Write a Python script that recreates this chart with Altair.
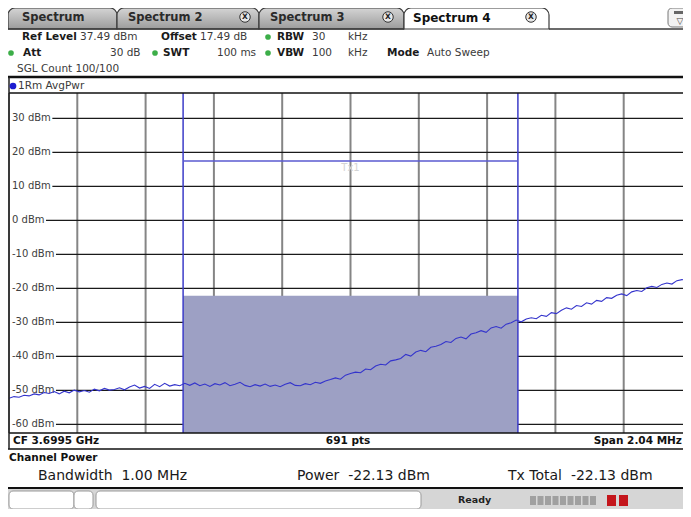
import altair as alt
import pandas as pd
import numpy as np

# ---------------- data ----------------
span_mhz = 2.04
ref_level = 37.49
bottom_level = -62.51
levels = [30, 20, 10, 0, -10, -20, -30, -40, -50, -60]
level_labels = [f"{v} dBm" for v in levels]
channel_bw_mhz = 1.00
channel_power = -22.13
limit_level = 17.49

trace_dbm = [
    -52.3, -51.8, -52.0, -51.4, -51.6, -51.0, -51.3, -50.6, -50.9, -50.3, -51.0, -50.2,
    -50.7, -49.9, -50.4, -50.0, -50.5, -49.6, -50.1, -49.4, -49.9, -49.7, -49.2, -49.8,
    -49.0, -48.4, -49.3, -48.8, -49.4, -48.2, -48.9, -47.9, -48.7, -48.3, -48.6,
    -47.9, -48.5, -47.8, -48.6, -48.1, -48.8, -48.0, -48.4, -47.7, -48.6, -48.2, -47.6,
    -48.5, -48.9, -48.3, -48.7, -48.1, -48.8, -48.4, -48.9, -48.2, -47.7, -48.5, -48.6,
    -48.0, -48.3, -47.6, -47.9, -47.2, -46.8, -46.3, -46.7, -45.5, -45.0,
    -44.6, -44.8, -43.7, -43.9, -42.8, -42.3, -42.5, -41.3, -41.0, -40.6, -39.4, -39.9,
    -38.7, -38.2, -38.6, -37.3, -37.0, -36.5, -35.6, -35.9, -34.7, -34.3, -34.8, -33.4,
    -33.0, -32.4, -32.9, -31.6, -31.2, -31.7, -30.5, -30.1, -29.3, -29.8,
    -29.0, -28.6, -28.9, -27.9, -28.2, -27.1, -27.4, -26.4, -25.7, -26.1, -25.0, -25.3,
    -24.2, -24.6, -23.5, -23.8, -22.7, -22.9, -22.0, -21.6, -22.1, -21.0, -20.6, -20.9,
    -19.8, -19.4, -19.7, -18.8, -18.4, -18.7, -17.7, -17.4, -17.6, -16.8,
]

# ---------------- layout ----------------
FONT = "DejaVu Sans"
FULL_W = 683            # width of the full 10-division grid in the original screen
W, H = 674, 340         # visible part (the screen is cut at the right)
X0, Y0 = 9, 93          # page position of plot origin
half = span_mhz / 2
x_hi = -half + span_mhz * W / FULL_W
xs = alt.Scale(domain=[-half, x_hi], nice=False, zero=False)
ys = alt.Scale(domain=[bottom_level, ref_level], nice=False, zero=False)

freqs = np.linspace(-half, half, len(trace_dbm))
trace_df = pd.DataFrame({"f": freqs, "p": trace_dbm})
grid_vals = [-half + span_mhz / 10 * k for k in range(11)]
grid_f = pd.DataFrame({"f": [g for g in grid_vals if g <= x_hi]})

cw = {"0": 6.36, "1": 6.36, "2": 6.36, "3": 6.36, "4": 6.36, "5": 6.36, "6": 6.36,
      "-": 3.61, " ": 3.18, "d": 6.35, "B": 6.86, "m": 9.74}
lab_x = 3
hgrid_df = pd.DataFrame({"p": levels, "t": level_labels})
hgrid_df["x0"] = [lab_x + sum(cw.get(c, 6.3) for c in t) + 1.5 for t in level_labels]


def rects(rows, **kw):
    df = pd.DataFrame(rows, columns=["x", "x2", "y", "y2", "fill", "stroke"])
    df[["x", "x2"]] -= X0
    df[["y", "y2"]] -= Y0
    return alt.Chart(df).mark_rect(**kw).encode(
        x=alt.X("x:Q", scale=None), x2="x2:Q",
        y=alt.Y("y:Q", scale=None), y2="y2:Q",
        fill=alt.Fill("fill:N", scale=None, legend=None),
        stroke=alt.Stroke("stroke:N", scale=None, legend=None),
    )


def grad_rects(rows, stops, **kw):
    df = pd.DataFrame(rows, columns=["x", "x2", "y", "y2"])
    df[["x", "x2"]] -= X0
    df[["y", "y2"]] -= Y0
    g = alt.LinearGradient(gradient="linear", x1=0, x2=0, y1=0, y2=1,
                           stops=[alt.GradientStop(offset=o, color=c) for o, c in stops])
    return alt.Chart(df).mark_rect(fill=g, **kw).encode(
        x=alt.X("x:Q", scale=None), x2="x2:Q",
        y=alt.Y("y:Q", scale=None), y2="y2:Q")


def lines(rows):
    out = []
    for (x1, x2, y1, y2, col, w) in rows:
        df = pd.DataFrame({"x": [x1 - X0], "x2": [x2 - X0], "y": [y1 - Y0], "y2": [y2 - Y0]})
        out.append(alt.Chart(df).mark_rule(color=col, strokeWidth=w).encode(
            x=alt.X("x:Q", scale=None), x2="x2:Q",
            y=alt.Y("y:Q", scale=None), y2="y2:Q"))
    return out


def texts(rows, size, weight="normal", align="left", color="#222222"):
    df = pd.DataFrame(rows, columns=["x", "y", "t"])
    df["x"] -= X0
    df["y"] -= Y0
    return alt.Chart(df).mark_text(align=align, baseline="middle", font=FONT,
                                   fontSize=size, fontWeight=weight, color=color).encode(
        x=alt.X("x:Q", scale=None), y=alt.Y("y:Q", scale=None), text="t:N")


def dots(rows, color, size, filled=True, stroke=None):
    df = pd.DataFrame(rows, columns=["x", "y"])
    df["x"] -= X0
    df["y"] -= Y0
    kw = dict(shape="circle", size=size, filled=filled, opacity=1)
    if filled:
        kw["color"] = color
    else:
        kw["fill"] = color
        kw["stroke"] = stroke
        kw["strokeWidth"] = 1
    return alt.Chart(df).mark_point(**kw).encode(
        x=alt.X("x:Q", scale=None), y=alt.Y("y:Q", scale=None))


layers = []

# ---- decorations: frame, tabs, status bar ----
layers.append(rects([
    (8, 691, 489, 510, "#d6d6d6", "transparent"),
]))
layers.append(grad_rects([
    (8, 117, 8, 29), (117, 259, 8, 29), (259, 404, 8, 29),
], [(0, "#d4d4d4"), (1, "#9c9c9c")], stroke="#3a3a3a", strokeWidth=1.2,
    cornerRadiusTopLeft=7, cornerRadiusTopRight=7))
layers.append(rects([
    (404, 549, 8, 29, "#ffffff", "#3a3a3a"),
], cornerRadiusTopLeft=7, cornerRadiusTopRight=7, strokeWidth=1.2))
layers.append(rects([
    (668, 690, 8, 27, "#f2f2f2", "#777777"),
    (9, 74, 491, 509, "#ffffff", "#9a9a9a"),
    (74, 93, 491, 509, "#ffffff", "#9a9a9a"),
    (96, 421, 491, 509, "#ffffff", "#9a9a9a"),
], cornerRadius=4, strokeWidth=1))
blocks = [(530 + 7.5 * i, 536 + 7.5 * i, 496, 505, "#a0a0a0", "transparent") for i in range(9)]
blocks += [(674, 686, 11, 14, "#666666", "transparent"),
           (607, 616, 495, 506, "#c4161c", "transparent"),
           (619, 628, 495, 506, "#c4161c", "transparent")]
layers.append(rects(blocks))

layers += lines([
    (8, 404, 29, 29, "#3a3a3a", 1.5),
    (549, 691, 29, 29, "#3a3a3a", 1.5),
    (8, 691, 77, 77, "#111111", 2.5),
    (8, 691, 449, 449, "#111111", 1.5),
    (8, 691, 488, 488, "#111111", 2.0),
])

# ---- plot area ----
layers.append(alt.Chart(grid_f).mark_rule(color="#858585", strokeWidth=2).encode(
    x=alt.X("f:Q", scale=xs, axis=None)))
layers.append(alt.Chart(hgrid_df).mark_rule(color="#1a1a1a", strokeWidth=1.3).encode(
    x=alt.X("x0:Q", scale=None), x2=alt.value(W),
    y=alt.Y("p:Q", scale=ys, axis=None)))
layers.append(alt.Chart(hgrid_df).mark_text(align="left", baseline="middle", font=FONT,
                                            fontSize=10, color="#404040").encode(
    x=alt.value(lab_x), y=alt.Y("p:Q", scale=ys), text="t:N"))

chan_df = pd.DataFrame({"f1": [-channel_bw_mhz / 2], "f2": [channel_bw_mhz / 2],
                        "p1": [bottom_level], "p2": [channel_power], "lim": [limit_level]})
layers.append(alt.Chart(chan_df).mark_rect(color="#9da0c4", opacity=1).encode(
    x=alt.X("f1:Q", scale=xs), x2="f2:Q", y=alt.Y("p1:Q", scale=ys), y2="p2:Q"))
edge_df = pd.DataFrame({"f": [-channel_bw_mhz / 2, channel_bw_mhz / 2]})
layers.append(alt.Chart(edge_df).mark_rule(color="#3c3cc8", strokeWidth=1.5).encode(
    x=alt.X("f:Q", scale=xs)))
layers.append(alt.Chart(chan_df).mark_rule(color="#5a5ad0", strokeWidth=1.5).encode(
    x=alt.X("f1:Q", scale=xs), x2="f2:Q", y=alt.Y("lim:Q", scale=ys)))
tx_df = pd.DataFrame({"f": [0.0], "p": [15.3], "t": ["Tx1"]})
layers.append(alt.Chart(tx_df).mark_text(font=FONT, fontSize=10, color="#d4d4d4",
                                         baseline="middle").encode(
    x=alt.X("f:Q", scale=xs), y=alt.Y("p:Q", scale=ys), text="t:N"))

layers.append(alt.Chart(trace_df).mark_line(color="#3434cc", strokeWidth=1.1, clip=True).encode(
    x=alt.X("f:Q", scale=xs), y=alt.Y("p:Q", scale=ys)))

layers += lines([
    (9, 691, 93, 93, "#111111", 1.5),
    (9, 691, 433, 433, "#111111", 1.5),
    (9, 9, 77, 449, "#222222", 1.5),
])

# ---- header texts ----
layers.append(texts([
    (22, 18, "Spectrum"), (128, 18, "Spectrum 2"), (270, 18, "Spectrum 3"),
], 11.5, "bold", color="#2a2a2a"))
layers.append(texts([(413, 18, "Spectrum 4")], 12, "bold", color="#111111"))
layers.append(dots([(245, 17), (388, 17), (531, 17)], "#e6e6e6", 110, filled=False, stroke="#333333"))
layers.append(texts([(245, 17, "X"), (388, 17, "X"), (531, 17, "X")], 7.5, "bold", "center", "#222222"))
layers.append(texts([(680, 21, "▽")], 9, "normal", "center", "#444444"))

layers.append(texts([
    (22, 37, "Ref Level"), (161, 37, "Offset"), (277, 37, "RBW"),
    (23, 53, "Att"), (163, 53, "SWT"), (277, 53, "VBW"), (387, 53, "Mode"),
], 10.5, "bold", color="#1a1a1a"))
layers.append(texts([
    (80, 37, "37.49 dBm"), (200, 37, "17.49 dB"), (312, 37, "30"), (348, 37, "kHz"),
    (110, 53, "30 dB"), (217, 53, "100 ms"), (312, 53, "100"), (348, 53, "kHz"),
    (427, 53, "Auto Sweep"), (17, 69, "SGL Count 100/100"), (18, 86, "1Rm AvgPwr"),
], 10.5, "normal", color="#3a3a3a"))
layers.append(dots([(268, 37), (11, 53), (155, 53), (268, 53)], "#3cae48", 32))
layers.append(dots([(13, 86)], "#1c1cd0", 45))

# ---- footer texts ----
layers.append(texts([(13, 441, "CF 3.6995 GHz"), (9, 458, "Channel Power")], 10.5, "bold", color="#111111"))
layers.append(texts([(348, 441, "691 pts")], 10.5, "bold", "center", "#111111"))
layers.append(texts([(682, 441, "Span 2.04 MHz")], 10.5, "bold", "right", "#111111"))
layers.append(texts([
    (38, 476, "Bandwidth\u00a0\u00a01.00 MHz"),
    (297, 476, "Power\u00a0\u00a0-22.13 dBm"),
    (508, 476, "Tx Total\u00a0\u00a0-22.13 dBm"),
], 14, "normal", color="#1a1a1a"))
layers.append(texts([(458, 500, "Ready")], 9.5, "bold", color="#222222"))

chart = alt.layer(*layers).properties(
    width=W, height=H,
    padding={"left": 1, "top": 85, "right": 0, "bottom": 76},
    autosize=alt.AutoSizeParams(type="none"),
    background="#ffffff",
).configure_view(strokeWidth=0)

chart.save("out.html", embed_options={"renderer": "svg", "actions": False})
